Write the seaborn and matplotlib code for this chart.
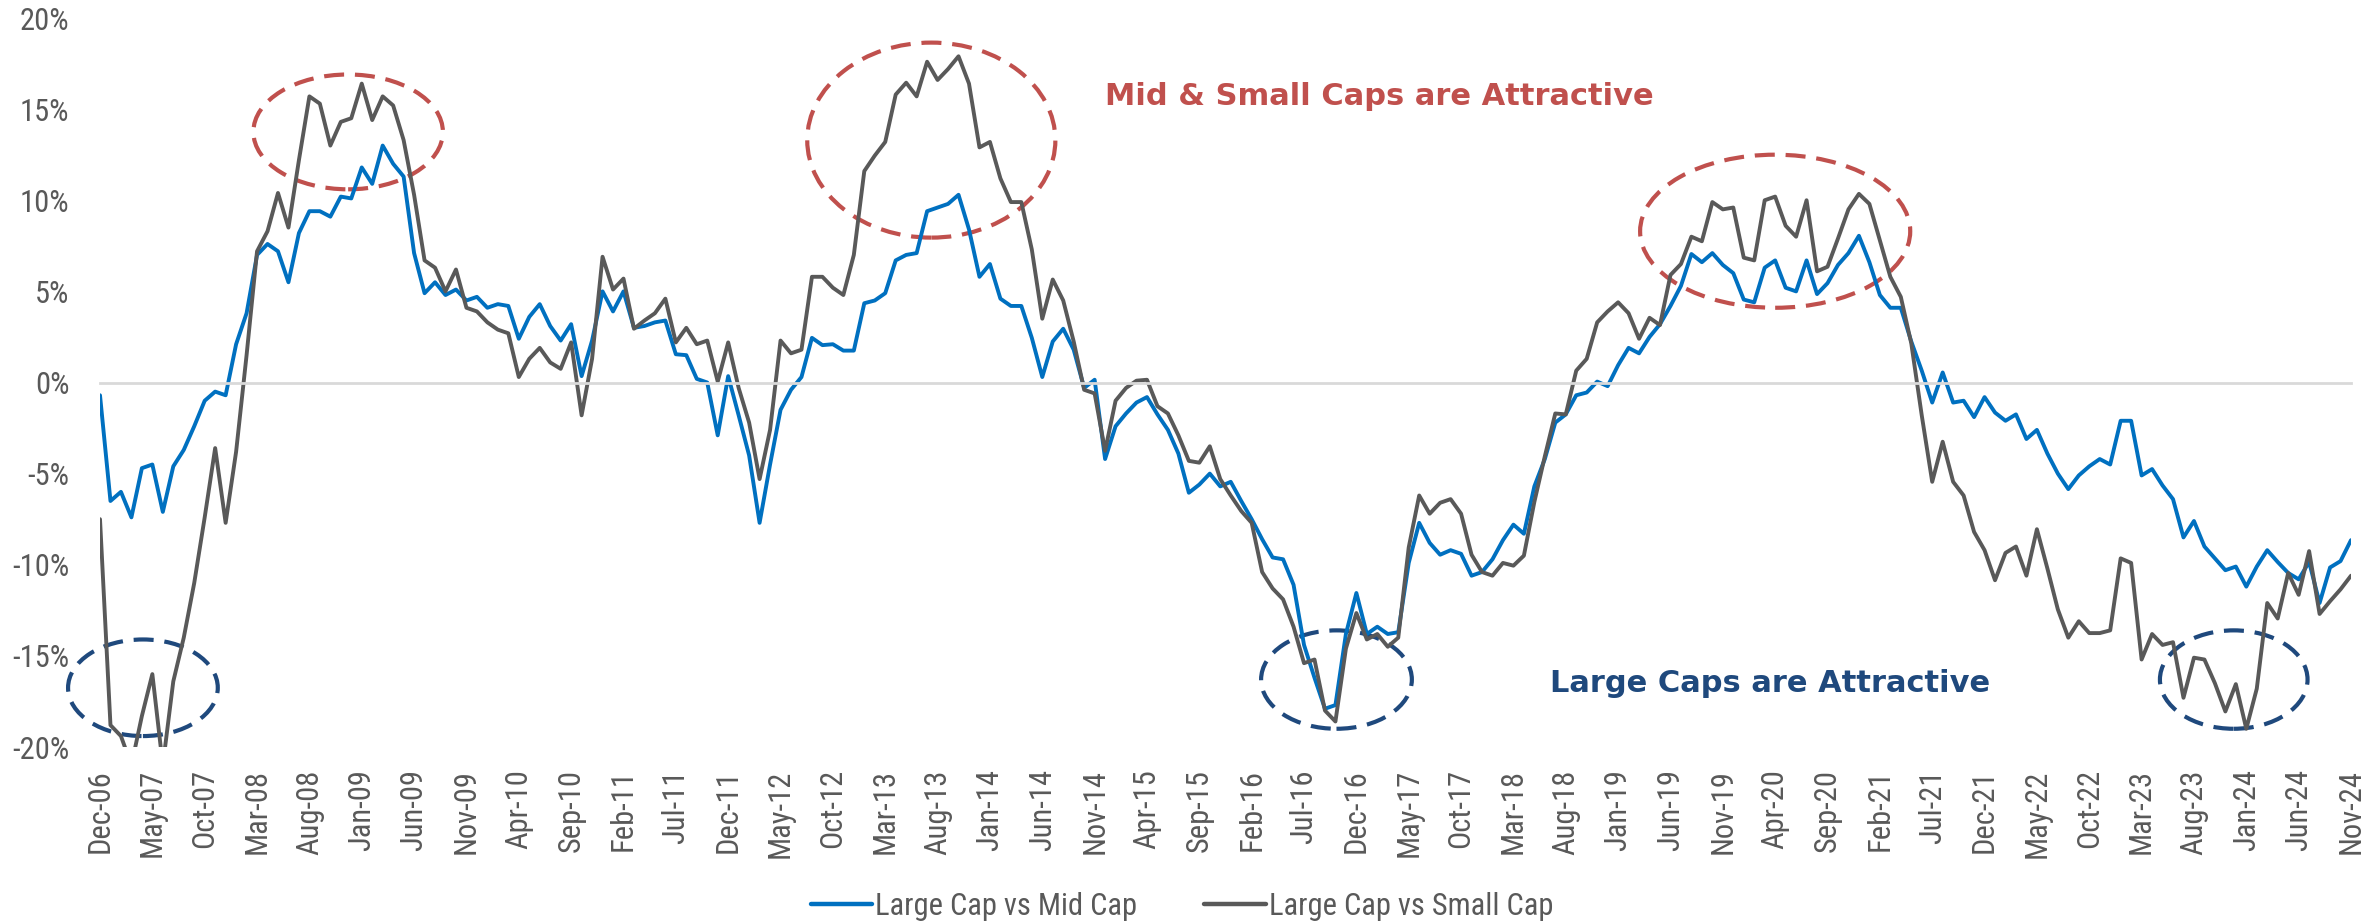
import pandas as pd
import seaborn as sns
import matplotlib.pyplot as plt
from matplotlib.patches import Ellipse

# monthly relative valuation, Dec-06 .. Nov-24 (one row of 12 per line)
mid_cap = [
    -0.7, -6.5, -6.0, -7.4, -4.7, -4.5, -7.1, -4.6, -3.7, -2.4, -1.0, -0.5,
    -0.7, 2.1, 3.8, 7.0, 7.6, 7.2, 5.5, 8.2, 9.4, 9.4, 9.1, 10.2,
    10.1, 11.8, 10.9, 13.0, 12.0, 11.3, 7.1, 4.9, 5.5, 4.8, 5.1, 4.5,
    4.7, 4.1, 4.3, 4.2, 2.4, 3.6, 4.3, 3.1, 2.3, 3.2, 0.35, 2.3,
    5.0, 3.9, 5.0, 3.0, 3.1, 3.3, 3.4, 1.55, 1.5, 0.2, 0.0, -2.9,
    0.35, -1.8, -4.0, -7.7, -4.5, -1.5, -0.4, 0.3, 2.45, 2.05, 2.1, 1.75,
    1.75, 4.35, 4.5, 4.9, 6.7, 7.0, 7.1, 9.4, 9.6, 9.8, 10.3, 8.4,
    5.8, 6.5, 4.6, 4.2, 4.2, 2.45, 0.3, 2.25, 2.95, 1.8, -0.3, 0.15,
    -4.2, -2.4, -1.7, -1.1, -0.8, -1.75, -2.6, -3.9, -6.05, -5.6, -5.0, -5.7,
    -5.45, -6.5, -7.5, -8.6, -9.6, -9.7, -11.1, -14.4, -16.2, -17.9, -17.7, -13.8,
    -11.55, -13.8, -13.4, -13.8, -13.7, -9.9, -7.7, -8.8, -9.45, -9.2, -9.4, -10.6,
    -10.4, -9.7, -8.65, -7.8, -8.3, -5.7, -4.2, -2.2, -1.75, -0.7, -0.55, 0.05,
    -0.2, 0.95, 1.9, 1.6, 2.5, 3.2, 4.2, 5.3, 7.05, 6.6, 7.1, 6.45,
    6.0, 4.55, 4.4, 6.3, 6.7, 5.2, 5.0, 6.7, 4.85, 5.45, 6.45, 7.1,
    8.05, 6.6, 4.8, 4.1, 4.1, 2.25, 0.65, -1.1, 0.55, -1.1, -1.0, -1.9,
    -0.8, -1.65, -2.1, -1.75, -3.1, -2.6, -3.9, -5.0, -5.85, -5.1, -4.6, -4.2,
    -4.5, -2.1, -2.1, -5.1, -4.75, -5.65, -6.4, -8.5, -7.6, -9.0, -9.65, -10.3,
    -10.1, -11.2, -10.1, -9.2, -9.85, -10.45, -10.8, -9.85, -12.1, -10.15, -9.8, -8.65,
]

small_cap = [
    -7.5, -18.8, -19.4, -21.0, -18.3, -16.0, -21.0, -16.4, -14.0, -11.0, -7.4, -3.6,
    -7.7, -3.8, 1.5, 7.2, 8.3, 10.4, 8.5, 12.2, 15.7, 15.3, 13.0, 14.3,
    14.5, 16.4, 14.4, 15.7, 15.2, 13.3, 10.3, 6.7, 6.3, 5.0, 6.2, 4.1,
    3.9, 3.3, 2.9, 2.7, 0.3, 1.3, 1.9, 1.1, 0.75, 2.2, -1.8, 1.3,
    6.9, 5.1, 5.7, 2.95, 3.4, 3.8, 4.6, 2.2, 3.0, 2.1, 2.3, 0.05,
    2.2, -0.3, -2.2, -5.3, -2.6, 2.3, 1.6, 1.8, 5.8, 5.8, 5.2, 4.8,
    7.0, 11.6, 12.45, 13.2, 15.8, 16.45, 15.7, 17.6, 16.6, 17.2, 17.9, 16.4,
    12.9, 13.2, 11.2, 9.9, 9.9, 7.3, 3.5, 5.65, 4.5, 2.25, -0.4, -0.6,
    -3.75, -1.0, -0.3, 0.1, 0.15, -1.3, -1.7, -2.9, -4.3, -4.4, -3.5, -5.3,
    -6.2, -7.05, -7.7, -10.4, -11.3, -11.9, -13.4, -15.4, -15.2, -18.0, -18.6, -14.6,
    -12.65, -14.1, -13.8, -14.5, -14.0, -9.05, -6.2, -7.2, -6.6, -6.4, -7.2, -9.45,
    -10.4, -10.6, -9.9, -10.05, -9.5, -6.55, -4.05, -1.7, -1.75, 0.65, 1.3, 3.3,
    3.9, 4.4, 3.8, 2.4, 3.55, 3.15, 5.9, 6.5, 8.0, 7.75, 9.9, 9.5,
    9.6, 6.85, 6.7, 10.0, 10.2, 8.6, 8.0, 10.0, 6.1, 6.35, 7.9, 9.5,
    10.35, 9.8, 7.8, 5.8, 4.7, 2.15, -1.8, -5.45, -3.25, -5.45, -6.2, -8.2,
    -9.2, -10.85, -9.35, -9.0, -10.6, -8.05, -10.2, -12.45, -14.0, -13.1, -13.75, -13.75,
    -13.6, -9.65, -9.9, -15.2, -13.8, -14.4, -14.25, -17.3, -15.1, -15.2, -16.5, -18.05,
    -16.55, -19.0, -16.8, -12.1, -12.95, -10.45, -11.65, -9.25, -12.7, -12.0, -11.35, -10.6,
]

months = pd.date_range("2006-12-01", periods=len(mid_cap), freq="MS")
month_labels = list(months.strftime("%b-%y"))
series_names = ["Large Cap vs Mid Cap", "Large Cap vs Small Cap"]
y_ticks = [-20, -15, -10, -5, 0, 5, 10, 15, 20]

df = pd.concat([
    pd.DataFrame({"idx": range(len(mid_cap)), "value": mid_cap, "series": series_names[0]}),
    pd.DataFrame({"idx": range(len(small_cap)), "value": small_cap, "series": series_names[1]}),
])

sns.set_theme(style="white")
plt.rcParams["font.family"] = ["Roboto Condensed", "DejaVu Sans"]

text_grey = "#595959"
red = "#C0504D"
navy = "#1F497D"

fig = plt.figure(figsize=(23.64, 9.22), dpi=100)
ax = fig.add_axes([100 / 2364, 1 - 747 / 922, 2251 / 2364, 729 / 922])

sns.lineplot(data=df, x="idx", y="value", hue="series",
             palette={series_names[0]: "#0070C0", series_names[1]: "#595959"},
             linewidth=2.8, ax=ax)

ax.set_xlim(0, len(mid_cap) - 1)
ax.set_ylim(-20, 20)
ax.set_xlabel("")
ax.set_ylabel("")

# y axis
ax.set_yticks(y_ticks)
ax.set_yticklabels([f"{v}%" for v in y_ticks])
ax.tick_params(axis="y", length=0, pad=22, labelsize=22, labelcolor=text_grey)

# horizontal axis line at 0 with tick marks
for s in ["top", "right", "left"]:
    ax.spines[s].set_visible(False)
ax.spines["bottom"].set_position(("data", 0))
ax.spines["bottom"].set_color("#D9D9D9")
ax.spines["bottom"].set_linewidth(2)
x_ticks = list(range(0, len(mid_cap), 5))
ax.set_xticks(x_ticks)
ax.tick_params(axis="x", direction="out", length=10, width=2, color="#D9D9D9",
               labelbottom=False)

# tick labels at the bottom
sec = ax.secondary_xaxis("bottom")
sec.set_xticks(x_ticks)
sec.set_xticklabels([month_labels[i] for i in x_ticks])
sec.tick_params(axis="x", length=0, pad=16, labelsize=22, labelcolor=text_grey,
                rotation=90)
sec.spines["bottom"].set_visible(False)

# ellipses
dash = (0, (4.8, 2.6))
for cx, cy, w, h in [(23.7, 13.75, 18.1, 6.3), (79.4, 13.3, 23.7, 10.7), (160.0, 8.3, 25.8, 8.4)]:
    ax.add_patch(Ellipse((cx, cy), w, h, fill=False, ec=red, lw=3, ls=dash, clip_on=False))
for cx, cy, w, h in [(4.1, -16.75, 14.3, 5.3), (118.1, -16.3, 14.4, 5.4), (203.8, -16.3, 14.1, 5.4)]:
    ax.add_patch(Ellipse((cx, cy), w, h, fill=False, ec=navy, lw=3, ls=dash, clip_on=False))

ax.text(96, 15.7, "Mid & Small Caps are Attractive", color=red, fontsize=22,
        fontweight="bold", family="DejaVu Sans", ha="left", va="center")
ax.text(138.5, -16.5, "Large Caps are Attractive", color=navy, fontsize=22,
        fontweight="bold", family="DejaVu Sans", ha="left", va="center")

handles, labels = ax.get_legend_handles_labels()
ax.get_legend().remove()
leg = fig.legend(handles, labels, loc="center", bbox_to_anchor=(0.5, 1 - 906 / 922),
                 ncol=2, frameon=False, fontsize=22, handlelength=2.0,
                 handletextpad=0.1, columnspacing=2.2)
for t in leg.get_texts():
    t.set_color(text_grey)
for l in leg.get_lines():
    l.set_linewidth(3.2)

fig.savefig("out.png", dpi=100)
